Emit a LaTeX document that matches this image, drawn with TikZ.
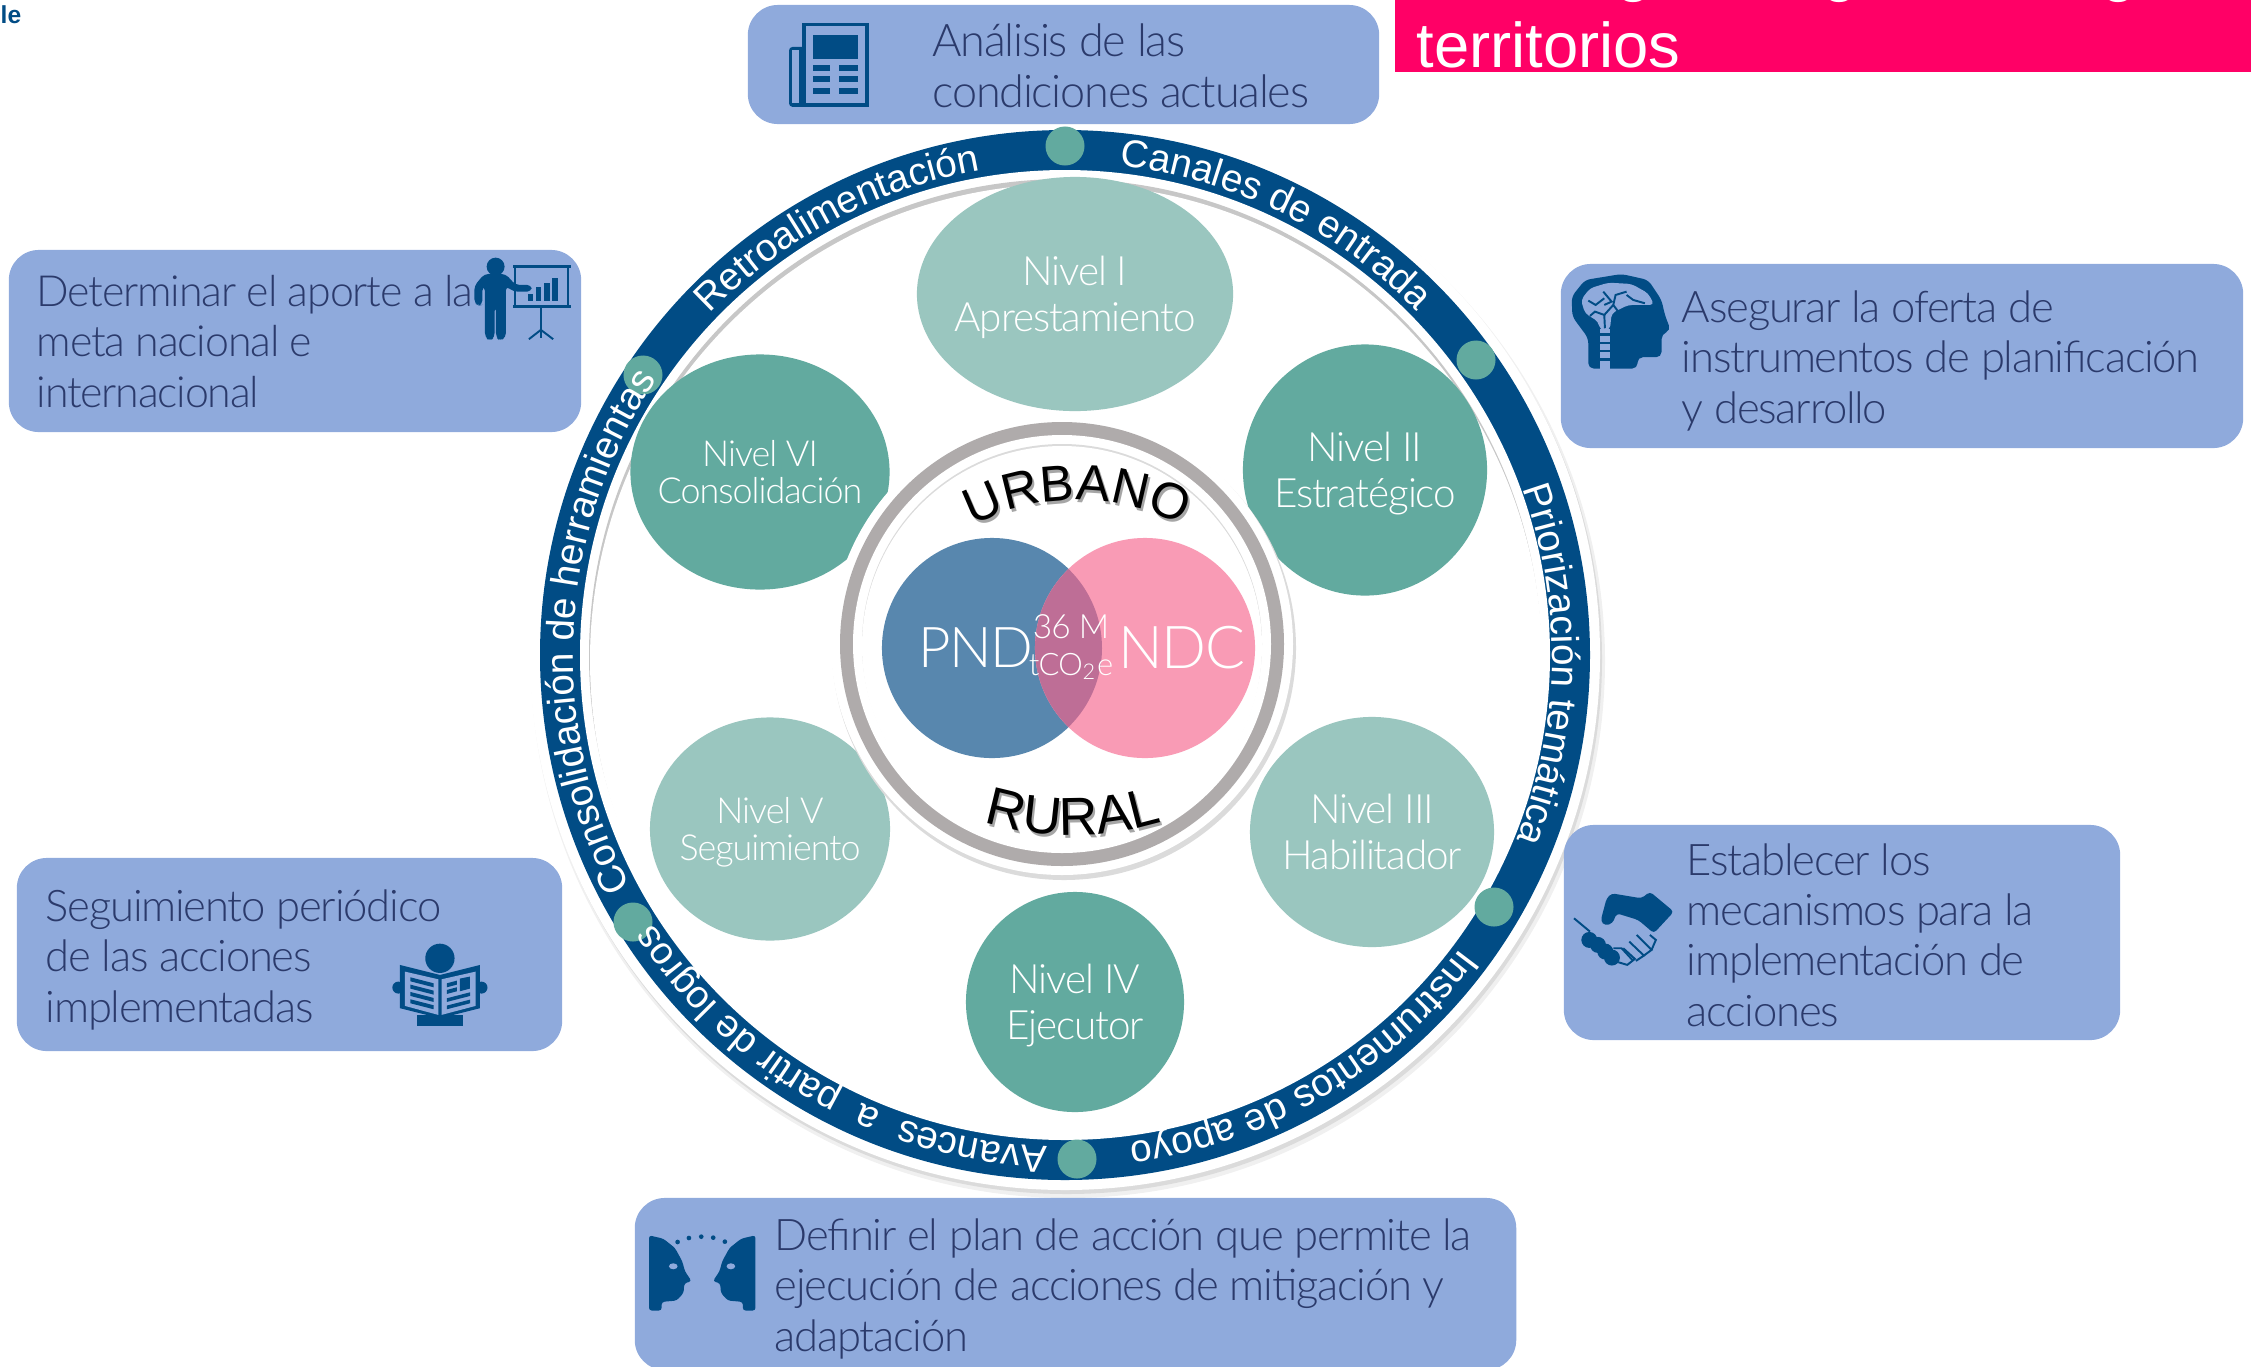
\documentclass[tikz,border=0pt]{standalone}
\usepackage{fontspec}
\setmainfont{Liberation Sans}
\newfontfamily\thinfont[LetterSpace=-2.8]{Lato Light}
\usetikzlibrary{shapes.geometric,decorations.text}

\definecolor{navyring}{HTML}{014C85}
\definecolor{boxblue}{HTML}{8FAADC}
\definecolor{boxink}{HTML}{2B3A6B}
\definecolor{greendark}{HTML}{62AA9F}
\definecolor{greenlight}{HTML}{9AC6BF}
\definecolor{titlepink}{HTML}{FF0066}
\definecolor{pndblue}{HTML}{5887AE}
\definecolor{ndcpink}{HTML}{F99BB5}
\definecolor{overlapmix}{HTML}{BE6E96}
\definecolor{ringgray}{HTML}{AFABAB}

\newcommand{\ringfont}{\fontsize{11}{13}\selectfont\color{white}}
\newcommand{\urbanofont}[1]{\fontsize{14.4}{16}\selectfont\color{#1}}
\newcommand{\ruralfont}[1]{\fontsize{15.2}{17}\selectfont\color{#1}}

\tikzset{
    infobox/.style={rectangle,rounded corners=0.3cm,fill=boxblue,inner sep=0pt},
    boxtext/.style={anchor=base west,align=left,inner sep=0pt,text=boxink,font=\thinfont\fontsize{12.4}{14.3}\selectfont},
    nivelshape/.style={ellipse,inner sep=0pt},
    nivelbig/.style={inner sep=0pt,text=white,align=center,font=\thinfont\fontsize{11.5}{13}\selectfont},
    nivelsmall/.style={inner sep=0pt,text=white,align=center,font=\thinfont\fontsize{10.2}{10.6}\selectfont},
    ringdot/.style={circle,inner sep=0pt,minimum size=0.39cm,fill=greendark},
    ringlabel/.style={decorate,decoration={text along path,text align=center,text={|\ringfont|#1}}},
    vennlabel/.style={anchor=base,inner sep=0pt,text=white},
    iconfill/.style={fill=navyring},
    iconcut/.style={fill=boxblue},
    iconline/.style={draw=navyring,line width=0.55pt}
}

\begin{document}
\begin{tikzpicture}[x=0.01cm,y=-0.01cm]
    \useasboundingbox (0,0) rectangle (2251,1366);

    % stray letters on the top edge
    \node[anchor=base west,inner sep=0pt,text=navyring,font=\fontsize{7}{8}\selectfont\bfseries] (stray) at (0,23) {le};
    \node[infobox,fill=titlepink,rounded corners=0pt,minimum width=8.56cm,minimum height=0.72cm] (titlebar) at (1823,36) {};
    \node[anchor=base west,inner sep=0pt,text=white,font=\fontsize{18}{20}\selectfont] (titleword) at (1416,67) {territorios};
    \node[anchor=base,inner sep=0pt,text=white,font=\fontsize{18}{20}\selectfont] (titleg1) at (1634,-11) {g};
    \node[anchor=base,inner sep=0pt,text=white,font=\fontsize{18}{20}\selectfont] (titleg2) at (1840,-11) {g};
    \node[anchor=base,inner sep=0pt,text=white,font=\fontsize{18}{20}\selectfont] (titleg3) at (2119,-11) {g};

    % outer band
    \fill[black!6] (1068,661) circle[radius=537];
    \fill[black!14] (1067,659) circle[radius=535];
    \fill[white] (1065,655) circle[radius=535];
    \fill[navyring] (1065,655) circle[radius=525];
    \fill[white] (1065,655) circle[radius=485];
    \fill[black!22] (1065,655) circle[radius=476];
    \fill[white] (1066,660) circle[radius=476];

    \node[ringdot] (dotcanales) at (1065,146) {};
    \node[ringdot] (dotpriori) at (1476,360) {};
    \node[ringdot] (dotinstru) at (1494,907) {};
    \node[ringdot] (dotavances) at (1077,1159) {};
    \node[ringdot] (dotconsol) at (633,922) {};
    \node[ringdot] (dotretro) at (643,375) {};

    \path[ringlabel={Retroalimentación}] (1065,655) ++(-163:492) arc[start angle=-163,end angle=-73,radius=492];
    \path[ringlabel={Canales de entrada}] (1065,655) ++(-109:492) arc[start angle=-109,end angle=-19,radius=492];
    \path[ringlabel={Priorización temática}] (1060,656) ++(-44:492) arc[start angle=-44,end angle=46,radius=492];
    \path[ringlabel={Instrumentos de apoyo}] (1065,655) ++(14.5:492) arc[start angle=14.5,end angle=104.5,radius=492];
    \path[ringlabel={Avances~~a~~partir de logros}] (1065,655) ++(74.5:492) arc[start angle=74.5,end angle=164.5,radius=492];
    \path[ringlabel={Consolidación de herramientas}] (1065,655) ++(138:492) arc[start angle=138,end angle=228,radius=492];

    % levels
    \node[nivelshape,fill=greenlight,minimum width=3.16cm,minimum height=2.34cm] (nivel1) at (1075,294) {};
    \node[nivelbig,yshift=-1pt] (nivel1text) at (nivel1) {Nivel I\\Apresta\-miento};
    \node[nivelshape,fill=greendark,minimum width=2.44cm,minimum height=2.51cm] (nivel2) at (1365,470) {};
    \node[nivelbig,yshift=-1pt] (nivel2text) at (nivel2) {Nivel II\\Estratégico};
    \node[nivelshape,fill=greenlight,minimum width=2.44cm,minimum height=2.30cm] (nivel3) at (1372,832) {};
    \node[nivelbig] (nivel3text) at (nivel3) {Nivel III\\Habilitador};
    \node[nivelshape,fill=greendark,minimum width=2.18cm,minimum height=2.20cm] (nivel4) at (1075,1002) {};
    \node[nivelbig,yshift=-1pt] (nivel4text) at (nivel4) {Nivel IV\\Ejecutor};
    \node[nivelshape,fill=greenlight,minimum width=2.40cm,minimum height=2.23cm] (nivel5) at (770,829) {};
    \node[nivelsmall,yshift=-1pt] (nivel5text) at (nivel5) {Nivel V\\Seguimiento};
    \node[nivelshape,fill=greendark,minimum width=2.59cm,minimum height=2.35cm] (nivel6) at (760,472) {};
    \node[nivelsmall] (nivel6text) at (nivel6) {Nivel VI\\Consolidación};

    % centre
    \fill[black!14] (1064,648) circle[radius=232];
    \fill[white] (1062,644) circle[radius=231];
    \fill[ringgray] (1062,644) circle[radius=222];
    \fill[white] (1062,644) circle[radius=209];
    \fill[black!14] (1062,644) circle[radius=200];
    \fill[white] (1062,646) circle[radius=200];

    \node[circle,inner sep=0pt,minimum size=2.2cm,fill=pndblue] (pndcircle) at (992,648) {};
    \node[circle,inner sep=0pt,minimum size=2.2cm,fill=ndcpink] (ndccircle) at (1145,648) {};
    \begin{scope}
        \clip (992,648) circle[radius=110];
        \fill[overlapmix] (1145,648) circle[radius=110];
    \end{scope}
    \node[vennlabel,font=\thinfont\fontsize{16}{18}\selectfont] (pnd) at (976,667) {PND};
    \node[vennlabel,font=\thinfont\fontsize{16.8}{19}\selectfont] (ndc) at (1182,668) {NDC};
    \node[vennlabel,font=\thinfont\fontsize{9.5}{11}\selectfont] (megaton) at (1071,638) {36 M};
    \node[vennlabel,font=\thinfont\fontsize{8.8}{11}\selectfont] (tco2) at (1071,675) {tCO\textsubscript{2}e};

    \path[decorate,decoration={text along path,text align=center,text={|\urbanofont{black!35}|URBANO}}] (1079,725) ++(-130:222) arc[start angle=-130,end angle=-50,radius=222];
    \path[decorate,decoration={text along path,text align=center,text={|\urbanofont{black}|URBANO}}] (1077,722) ++(-130:222) arc[start angle=-130,end angle=-50,radius=222];
    \path[decorate,decoration={text along path,text align=center,text={|\ruralfont{black!35}|RURAL}}] (1075,538) ++(110:300) arc[start angle=110,end angle=70,radius=300];
    \path[decorate,decoration={text along path,text align=center,text={|\ruralfont{black}|RURAL}}] (1073,535) ++(110:300) arc[start angle=110,end angle=70,radius=300];

    % boxes round the band
    \node[infobox,minimum width=6.31cm,minimum height=1.19cm] (analisisbox) at (1063.5,64.5) {};
    \node[boxtext,font=\thinfont\fontsize{12.8}{14.3}\selectfont] (analisis) at (932,107) {Análisis de las\\condiciones actuales};
    \node[infobox,minimum width=5.72cm,minimum height=1.82cm] (aportebox) at (295,341) {};
    \node[boxtext,font=\thinfont\fontsize{12.2}{14.3}\selectfont] (aporte) at (36,407) {Determinar el aporte a la\\meta nacional e\\internacional};
    \node[infobox,minimum width=5.56cm,minimum height=2.15cm] (mecanismobox) at (1842,932.5) {};
    \node[boxtext] (mecanismo) at (1686,1026) {Establecer los\\mecanismos para la\\implementación de\\acciones};
    \node[infobox,minimum width=6.82cm,minimum height=1.84cm] (ofertabox) at (1902,356) {};
    \node[boxtext] (oferta) at (1681,423) {Asegurar la oferta de\\instrumentos de planificación\\y desarrollo};
    \node[infobox,minimum width=5.45cm,minimum height=1.93cm] (seguimientobox) at (289.5,954.5) {};
    \node[boxtext] (seguimiento) at (45,1022) {Seguimiento periódico\\de las acciones\\implementadas};
    \node[infobox,minimum width=8.81cm,minimum height=1.72cm] (planbox) at (1075.5,1284) {};
    \node[boxtext] (plan) at (774,1351) {Definir el plan de acción que permite la\\ejecución de acciones de mitigación y\\adaptación};

    % newspaper
    \begin{scope}[shift={(789,23)},x=0.00333cm,y=-0.00333cm]
        \fill[iconfill,rounded corners=1pt] (0,72) rectangle (240,252);
        \fill[iconfill] (40,0) rectangle (240,252);
        \fill[iconcut] (9,80) rectangle (30,240);
        \fill[iconcut] (52,10) rectangle (228,240);
        \fill[iconfill] (72,36) rectangle (208,108);
        \fill[iconfill] (72,126) rectangle (122,144);
        \fill[iconfill] (150,126) rectangle (208,144);
        \fill[iconfill] (72,160) rectangle (122,178);
        \fill[iconfill] (150,160) rectangle (208,178);
        \fill[iconfill] (72,194) rectangle (122,212);
        \fill[iconfill] (150,194) rectangle (208,212);
    \end{scope}

    % presenter
    \begin{scope}[shift={(465,250)},x=0.00333cm,y=-0.00333cm]
        \fill[iconfill] (92,50) circle[radius=27];
        \fill[iconfill,rounded corners=1.2pt] (42,167) -- (28,160) -- (28,108) -- (58,72) -- (122,72) -- (152,105) -- (200,105) -- (200,125) -- (145,125) -- (123,108) -- (123,262) -- (105,274) -- (93,262) -- (93,170) -- (89,170) -- (89,262) -- (75,274) -- (60,262) -- (60,110) -- (52,110) -- (52,165) -- cycle;
        \fill[iconfill] (145,45) rectangle (318,53);
        \fill[iconfill] (143,165) rectangle (318,175);
        \fill[iconfill] (148,50) rectangle (153,170);
        \fill[iconfill] (306,50) rectangle (311,170);
        \fill[iconfill] (188,132) rectangle (204,152);
        \fill[iconfill] (212,112) rectangle (228,152);
        \fill[iconfill] (238,100) rectangle (254,152);
        \fill[iconfill] (262,85) rectangle (278,152);
        \draw[iconline] (228,175) -- (228,265);
        \draw[iconline] (192,268) -- (228,240) -- (265,268);
    \end{scope}

    % head with brain
    \begin{scope}[shift={(1565,270)},x=0.00333cm,y=-0.00333cm]
        \fill[iconfill,rounded corners=1.5pt] (70,296) -- (70,205) -- (22,140) -- (20,80) -- (60,30) -- (170,12) -- (250,30) -- (290,90) -- (300,135) -- (318,182) -- (290,192) -- (290,262) -- (218,262) -- (218,296) -- cycle;
        \fill[iconcut,rounded corners=1.2pt] (60,130) -- (48,90) -- (75,55) -- (130,38) -- (200,42) -- (250,70) -- (268,105) -- (190,105) -- (140,130) -- (135,180) -- (105,180) -- (100,155) -- cycle;
        \fill[iconcut] (105,178) rectangle (135,296);
        \fill[iconfill] (105,190) rectangle (135,197);
        \fill[iconfill] (105,215) rectangle (135,222);
        \fill[iconfill] (105,240) rectangle (135,247);
        \fill[iconfill] (105,265) rectangle (135,272);
        \draw[iconline] (120,175) -- (118,135) -- (90,125) -- (75,138);
        \draw[iconline] (118,135) -- (145,105) -- (152,75) -- (185,65);
        \draw[iconline] (118,105) -- (140,95) -- (115,65);
        \draw[iconline] (70,92) -- (92,105) -- (118,85);
        \draw[iconline] (185,75) -- (205,90) -- (240,100);
        \draw[iconline] (145,105) -- (160,125);
    \end{scope}

    % handshake
    \begin{scope}[shift={(1570,885)},x=0.00333cm,y=-0.00333cm]
        \fill[iconfill,rounded corners=1pt] (92,108) -- (110,40) -- (125,25) -- (215,40) -- (240,20) -- (312,80) -- (252,145) -- (205,105) -- (140,85) -- (128,115) -- (105,122) -- cycle;
        \draw[iconline] (12,100) -- (60,140);
        \fill[iconfill] (58,165) circle[radius=24];
        \fill[iconfill] (84,180) circle[radius=24];
        \fill[iconfill] (106,200) circle[radius=24];
        \fill[iconfill] (126,218) circle[radius=24];
        \draw[iconline] (130,190) -- (155,190) -- (190,228);
        \draw[iconline] (145,232) -- (172,240) -- (195,222) -- (160,190);
        \draw[iconline] (178,170) -- (222,212) -- (198,228);
        \draw[iconline] (200,150) -- (245,195) -- (222,212);
        \draw[iconline] (240,150) -- (258,165) -- (245,195);
    \end{scope}

    % reader
    \begin{scope}[shift={(385,940)},x=0.00333cm,y=-0.00333cm]
        \fill[iconfill] (165,55) circle[radius=44];
        \fill[iconfill] (40,143) circle[radius=18];
        \fill[iconfill] (290,143) circle[radius=18];
        \fill[iconfill] (95,225) rectangle (235,258);
        \fill[iconfill] (45,75) -- (165,105) -- (285,75) -- (285,205) -- (165,235) -- (45,205) -- cycle;
        \fill[iconcut] (60,95) -- (160,118) -- (160,225) -- (60,198) -- cycle;
        \fill[iconcut] (170,118) -- (272,95) -- (272,198) -- (170,225) -- cycle;
        \fill[iconfill] (76,112) -- (146,130) -- (146,142) -- (76,124) -- cycle;
        \fill[iconfill] (76,134) -- (146,152) -- (146,164) -- (76,146) -- cycle;
        \fill[iconfill] (76,156) -- (146,174) -- (146,186) -- (76,168) -- cycle;
        \fill[iconfill] (76,178) -- (146,196) -- (146,208) -- (76,190) -- cycle;
        \fill[iconfill] (225,116) -- (255,110) -- (255,146) -- (225,154) -- cycle;
        \fill[iconfill] (186,130) -- (216,122) -- (216,134) -- (186,142) -- cycle;
        \fill[iconfill] (186,150) -- (216,142) -- (216,154) -- (186,162) -- cycle;
        \fill[iconfill] (186,175) -- (256,157) -- (256,168) -- (186,186) -- cycle;
        \fill[iconfill] (186,197) -- (256,179) -- (256,190) -- (186,208) -- cycle;
    \end{scope}

    % two faces
    \begin{scope}[shift={(645,1228)},x=0.00333cm,y=-0.00333cm]
        \fill[iconfill,rounded corners=0.8pt] (12,22) -- (55,32) -- (90,60) -- (112,100) -- (120,130) -- (140,160) -- (118,166) -- (116,195) -- (95,218) -- (50,222) -- (50,248) -- (12,248) -- cycle;
        \fill[iconfill,rounded corners=0.8pt] (332,22) -- (289,32) -- (254,60) -- (232,100) -- (224,130) -- (204,160) -- (226,166) -- (228,195) -- (249,218) -- (294,222) -- (294,248) -- (332,248) -- cycle;
        \fill[iconcut] (85,115) circle[x radius=13,y radius=9];
        \fill[iconcut] (258,115) circle[x radius=13,y radius=9];
        \fill[iconfill] (98,42) circle[radius=7];
        \fill[iconfill] (132,30) circle[radius=7];
        \fill[iconfill] (169,26) circle[radius=7];
        \fill[iconfill] (205,29) circle[radius=7];
        \fill[iconfill] (240,41) circle[radius=7];
    \end{scope}
\end{tikzpicture}
\end{document}
